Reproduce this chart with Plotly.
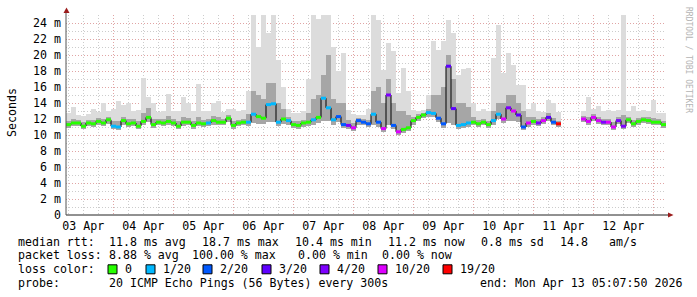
import plotly.graph_objects as go
import pandas as pd

# ---------------- data (2-hour bins, 03 Apr 05:07:50 .. 13 Apr 05:07:50) ----------------
START = "2026-04-03 05:07:50"
END = "2026-04-13 05:07:50"

median_ms = [
    11.3, 11.5, 11.5, 11.1, 11.5, 11.4, 11.7, 11.5, 11.9, 11.1,
    11.0, 11.8, 11.4, 11.5, 11.1, 11.7, 12.2, 11.3, 11.6, 11.5,
    11.7, 11.5, 11.1, 11.6, 11.6, 11.2, 11.5, 11.4, 11.5, 11.8,
    11.6, 11.6, 12.1, 11.2, 11.5, 11.6, 11.6, 12.6, 12.3, 12.1,
    13.8, 13.9, 11.6, 12.0, 11.8, 11.3, 11.2, 11.5, 11.6, 11.9,
    12.2, 14.6, 13.4, 11.9, 12.3, 11.3, 11.2, 10.9, 11.8, 11.6,
    11.4, 12.6, 11.6, 10.8, 15.0, 11.2, 10.4, 10.7, 10.9, 11.8,
    12.2, 12.5, 12.8, 12.7, 12.1, 11.4, 18.6, 13.3, 11.2, 11.3,
    11.5, 11.6, 11.4, 11.6, 11.3, 11.8, 12.6, 12.0, 13.4, 13.0,
    12.5, 11.0, 11.5, 11.7, 11.5, 11.8, 12.2, 11.6, 11.4, None,
    None, None, None, 12.0, 11.7, 12.2, 11.8, 11.6, 11.6, 11.0,
    11.8, 11.1, 11.9, 11.4, 11.7, 11.9, 11.8, 11.6, 11.6, 11.3,
]
loss_20 = [
    0, 0, 0, 0, 0, 0, 0, 0, 0, 1,
    1, 0, 0, 0, 0, 0, 0, 0, 0, 0,
    0, 0, 0, 0, 0, 0, 0, 0, 1, 0,
    0, 0, 0, 0, 0, 0, 1, 1, 0, 0,
    1, 1, 1, 0, 1, 0, 0, 0, 0, 1,
    0, 1, 1, 1, 2, 2, 4, 10, 2, 2,
    2, 1, 2, 10, 4, 2, 10, 0, 0, 0,
    0, 0, 1, 1, 2, 2, 3, 3, 1, 1,
    1, 0, 0, 0, 0, 1, 1, 10, 4, 10,
    3, 2, 10, 0, 4, 10, 3, 2, 19, None,
    None, None, None, 10, 10, 10, 10, 4, 10, 10,
    4, 4, 0, 0, 0, 0, 0, 0, 0, 0,
]
smoke_max_ms = [
    12.8, 13.5, 12.5, 12.4, 12.6, 13.3, 12.9, 14.0, 13.0, 13.2,
    14.3, 13.7, 14.0, 13.0, 13.1, 17.1, 14.8, 14.0, 12.9, 13.0,
    15.1, 13.0, 13.0, 14.8, 14.0, 13.0, 16.4, 13.0, 13.0, 14.0,
    14.2, 12.9, 13.3, 13.3, 13.0, 13.1, 15.5, 25.0, 21.0, 25.0,
    22.7, 25.0, 19.4, 16.0, 13.3, 12.8, 12.8, 13.0, 17.0, 25.0,
    24.5, 25.0, 25.0, 21.0, 18.0, 20.2, 13.1, 12.6, 12.5, 12.5,
    13.2, 25.0, 24.4, 18.1, 21.5, 20.5, 15.2, 18.4, 15.5, 13.1,
    13.0, 13.1, 15.0, 21.7, 20.6, 21.7, 24.4, 22.7, 17.5, 18.3,
    18.4, 14.0, 13.0, 13.2, 13.0, 19.6, 23.8, 17.8, 20.2, 18.7,
    16.3, 16.3, 13.3, 14.0, 13.0, 12.9, 14.4, 14.0, 12.9, None,
    None, None, None, 13.0, 14.8, 13.3, 13.6, 13.0, 13.1, 13.0,
    13.1, 25.0, 13.0, 13.6, 13.0, 13.1, 13.0, 14.4, 12.8, 12.7,
]
smoke_mid_ms = [
    11.8, 12.0, 11.9, 11.6, 11.9, 11.9, 12.1, 12.0, 12.3, 11.7,
    11.8, 12.3, 12.0, 12.0, 11.7, 12.8, 13.4, 12.0, 12.0, 12.0,
    12.4, 12.0, 11.7, 12.2, 12.1, 11.7, 12.2, 11.9, 12.0, 12.4,
    12.2, 12.0, 12.5, 11.8, 11.9, 12.0, 12.6, 15.5, 15.0, 14.5,
    16.5, 16.5, 14.0, 13.2, 12.3, 11.8, 11.7, 11.9, 12.8, 14.5,
    15.0, 17.5, 20.0, 14.5, 14.0, 14.0, 11.9, 11.5, 12.1, 12.0,
    11.9, 15.5, 16.0, 14.0, 17.0, 14.0, 13.0, 13.0, 12.5, 12.2,
    12.6, 12.8, 13.3, 15.0, 15.0, 16.0, 20.0, 17.0, 14.0, 14.0,
    13.5, 12.3, 11.9, 12.0, 11.8, 13.0, 14.0, 14.0, 15.0, 15.0,
    14.0, 13.0, 12.2, 12.2, 12.0, 12.2, 12.8, 12.1, 11.8, None,
    None, None, None, 12.4, 12.2, 12.6, 12.2, 12.0, 12.0, 11.6,
    12.2, 12.5, 12.3, 11.9, 12.1, 12.3, 12.2, 12.1, 12.0, 11.8,
]
smoke_min_ms = [
    10.9, 11.1, 11.1, 10.8, 11.1, 11.0, 11.3, 11.1, 11.4, 10.7,
    10.6, 11.3, 11.0, 11.1, 10.8, 11.2, 11.6, 10.9, 11.2, 11.1,
    11.2, 11.1, 10.8, 11.1, 11.2, 10.8, 11.1, 11.0, 11.1, 11.3,
    11.2, 11.2, 11.6, 10.8, 11.1, 11.2, 11.1, 11.5, 11.4, 11.4,
    11.6, 11.6, 11.1, 11.4, 11.3, 10.9, 10.8, 11.0, 11.1, 11.3,
    11.5, 11.8, 11.7, 11.3, 11.6, 10.9, 10.8, 10.5, 11.3, 11.2,
    11.0, 11.3, 11.0, 10.4, 11.2, 10.8, 10.0, 10.3, 10.5, 11.3,
    11.8, 12.1, 12.3, 12.2, 11.6, 10.9, 11.5, 11.2, 10.8, 10.9,
    11.0, 11.2, 11.0, 11.2, 10.9, 11.3, 12.0, 11.5, 11.8, 11.8,
    11.6, 10.6, 11.0, 11.2, 11.1, 11.4, 11.7, 11.2, 11.0, None,
    None, None, None, 11.6, 11.3, 11.7, 11.4, 11.2, 11.2, 10.6,
    11.4, 10.7, 11.5, 11.0, 11.3, 11.5, 11.4, 11.2, 11.2, 10.9,
]

y_tick_vals = [0, 2, 4, 6, 8, 10, 12, 14, 16, 18, 20, 22, 24]
y_tick_text = ["0", "2 m", "4 m", "6 m", "8 m", "10 m", "12 m", "14 m",
               "16 m", "18 m", "20 m", "22 m", "24 m"]
day_ticks = ["2026-04-04", "2026-04-05", "2026-04-06", "2026-04-07", "2026-04-08",
             "2026-04-09", "2026-04-10", "2026-04-11", "2026-04-12", "2026-04-13"]
day_labels = ["03 Apr", "04 Apr", "05 Apr", "06 Apr", "07 Apr",
              "08 Apr", "09 Apr", "10 Apr", "11 Apr", "12 Apr"]

loss_levels = [0, 1, 2, 3, 4, 10, 19]
loss_names = ["0", "1/20", "2/20", "3/20", "4/20", "10/20", "19/20"]
loss_colors = ["#26ff00", "#00b8ff", "#0059ff", "#5e00ff", "#7e00ff", "#dd00ff", "#ff0000"]

stat_line1 = [("median rtt:", 16), ("11.8 ms avg", 107), ("18.7 ms max", 200),
              ("10.4 ms min", 293), ("11.2 ms now", 386), ("0.8 ms sd", 479),
              ("14.8", 558), ("am/s", 607)]
stat_line2 = [("packet loss:", 16), ("8.88 % avg", 107), ("100.00 % max", 190),
              ("0.00 % min", 296), ("0.00 % now", 380)]
probe_line = [("probe:", 16), ("20 ICMP Echo Pings (56 Bytes) every 300s", 107),
              ("end: Mon Apr 13 05:07:50 2026", 478)]

# ---------------- geometry ----------------
W, H = 697, 297
L, R, T, B = 66, 31, 15, 82
PW, PH = W - L - R, H - T - B
FONT = "DejaVu Sans Mono"
FS = 11.6


def px(x):
    return (x - L) / PW


def py(y):
    return (H - B - y) / PH


edges = pd.date_range(START, periods=len(median_ms) + 1, freq="2h")
centers = edges[:-1] + pd.Timedelta(hours=1)
BW = 2 * 3600 * 1000

fig = go.Figure()

# smoke: outer (min..max) and inner band
outer_len = [None if h is None else h - l for h, l in zip(smoke_max_ms, smoke_min_ms)]
inner_len = [None if m is None else m - l for m, l in zip(smoke_mid_ms, smoke_min_ms)]
fig.add_trace(go.Bar(x=centers, y=outer_len, base=smoke_min_ms, width=BW,
                     marker=dict(color="#dcdcdc", line=dict(width=0)), hoverinfo="skip"))
fig.add_trace(go.Bar(x=centers, y=inner_len, base=smoke_min_ms, width=BW,
                     marker=dict(color="#a6a6a6", line=dict(width=0)), hoverinfo="skip"))

# black connecting step line
fig.add_trace(go.Scatter(x=list(edges), y=median_ms + [median_ms[-1]], mode="lines",
                         line=dict(color="#000000", width=1, shape="hv"),
                         connectgaps=False, hoverinfo="skip"))

# colored median segments by loss
for lvl, col in zip(loss_levels, loss_colors):
    xs, ys = [], []
    for i, (m, lo) in enumerate(zip(median_ms, loss_20)):
        if m is None or lo != lvl:
            continue
        xs += [edges[i], edges[i + 1], None]
        ys += [m, m, None]
    if xs:
        fig.add_trace(go.Scatter(x=xs, y=ys, mode="lines",
                                 line=dict(color=col, width=3), hoverinfo="skip"))

fig.update_layout(
    width=W, height=H, margin=dict(l=L, r=R, t=T, b=B),
    paper_bgcolor="white", plot_bgcolor="white",
    showlegend=False, barmode="overlay", bargap=0, hovermode=False,
    font=dict(family=FONT, size=FS, color="#000000"),
)

fig.update_xaxes(
    type="date", range=[START, END],
    tickmode="array", tickvals=day_ticks, ticktext=day_labels, ticklabelshift=-30,
    ticks="", showline=False, zeroline=False,
    showgrid=True, gridcolor="#e0a4a4", griddash="1px,2px", gridwidth=1,
    minor=dict(dtick=6 * 3600 * 1000, tick0="2026-04-03 00:00:00", showgrid=True,
               gridcolor="#cccccc", griddash="1px,2px", gridwidth=1),
    tickfont=dict(family=FONT, size=FS, color="#000000"),
    ticklabelstandoff=2,
)
fig.update_yaxes(
    range=[0, 25], tickmode="array", tickvals=y_tick_vals, ticktext=y_tick_text,
    ticks="", showline=False, zeroline=False,
    showgrid=True, gridcolor="#e0a4a4", griddash="1px,2px", gridwidth=1,
    minor=dict(dtick=1, tick0=0, showgrid=True, gridcolor="#cccccc",
               griddash="1px,2px", gridwidth=1),
    tickfont=dict(family=FONT, size=FS, color="#000000"),
    ticklabelstandoff=4,
)

shapes = []
# axes lines
shapes.append(dict(type="line", xref="paper", yref="paper", x0=px(66), x1=px(668),
                   y0=py(215), y1=py(215), line=dict(color="#222222", width=1)))
shapes.append(dict(type="line", xref="paper", yref="paper", x0=px(66), x1=px(66),
                   y0=py(215), y1=py(12), line=dict(color="#555555", width=1)))
# arrows
shapes.append(dict(type="path", xref="paper", yref="paper",
                   path=f"M {px(63.5)},{py(13)} L {px(69.5)},{py(13)} L {px(66.5)},{py(7.5)} Z",
                   fillcolor="#9b1c1c", line=dict(width=0)))
shapes.append(dict(type="path", xref="paper", yref="paper",
                   path=f"M {px(668)},{py(212.5)} L {px(668)},{py(217.5)} L {px(673.5)},{py(215)} Z",
                   fillcolor="#9b1c1c", line=dict(width=0)))

annotations = []


def txt(s, x, y, **kw):
    d = dict(text=s.replace(" ", "\u00a0"), x=px(x), y=py(y), xref="paper", yref="paper",
             xanchor="left", yanchor="middle", showarrow=False,
             font=dict(family=FONT, size=FS, color="#000000"))
    d.update(kw)
    annotations.append(d)


for s, x in stat_line1:
    txt(s, x, 241.5)
for s, x in stat_line2:
    txt(s, x, 255.3)
txt("loss color:", 16, 269.2)
sq_x = [108, 146, 203, 262, 320, 378, 443]
for name, col, sx in zip(loss_names, loss_colors, sq_x):
    shapes.append(dict(type="rect", xref="paper", yref="paper",
                       x0=px(sx), x1=px(sx + 9), y0=py(273.8), y1=py(264.8),
                       fillcolor=col, line=dict(color="#000000", width=1)))
    txt(name, sx + 15, 269.2)
for s, x in probe_line:
    txt(s, x, 283)

# axis title and watermark
annotations.append(dict(text="Seconds", x=px(12), y=py(113), xref="paper", yref="paper",
                        xanchor="center", yanchor="middle", textangle=-90, showarrow=False,
                        font=dict(family=FONT, size=FS, color="#000000")))
annotations.append(dict(text="RRDTOOL / TOBI OETIKER".replace(" ", "\u00a0"), x=px(688), y=py(60),
                        xref="paper", yref="paper", xanchor="center", yanchor="middle",
                        textangle=90, showarrow=False,
                        font=dict(family=FONT, size=8, color="#b4b4b4")))

fig.update_layout(shapes=shapes, annotations=annotations)
fig.write_html("out.html")
